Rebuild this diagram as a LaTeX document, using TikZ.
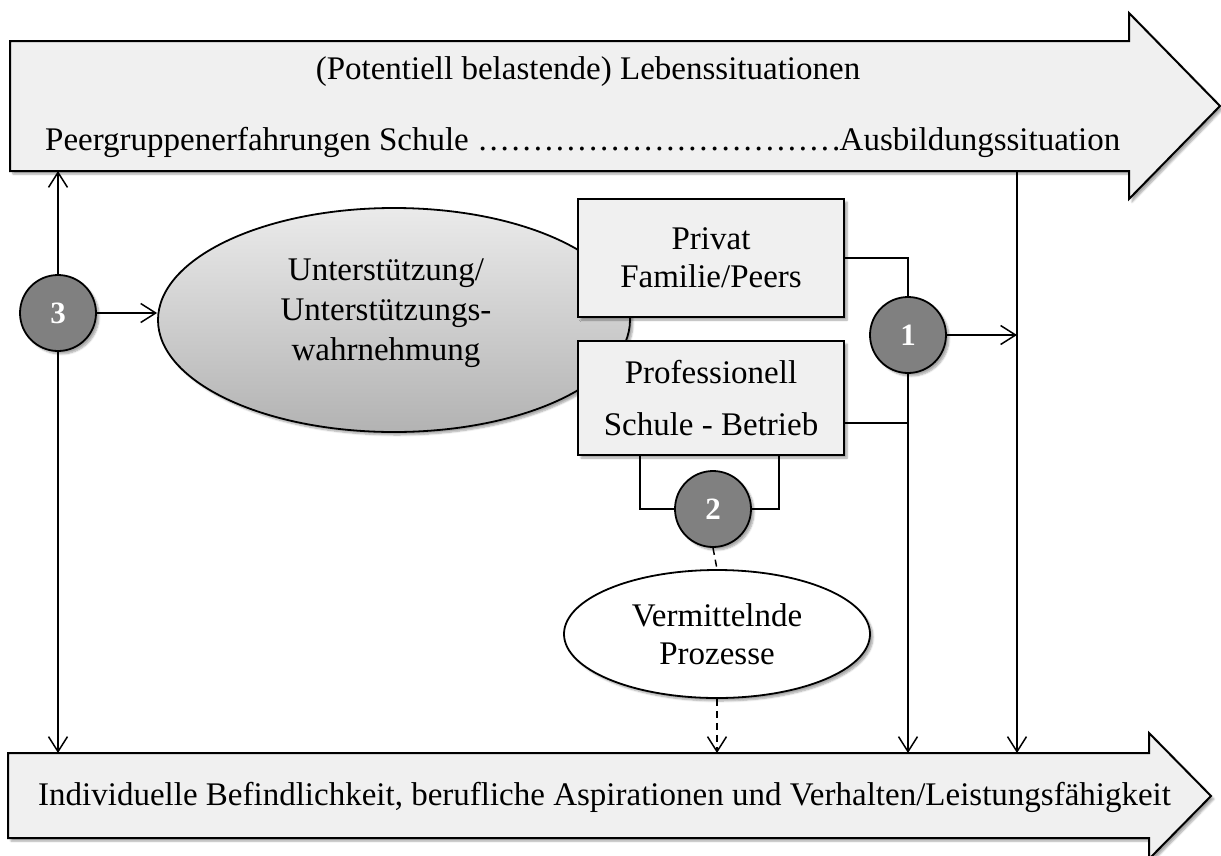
\documentclass[tikz,border=0pt]{standalone}
\usepackage{fontspec}
\setmainfont{Liberation Serif}
\usetikzlibrary{arrows.meta,shapes.geometric,shadows.blur}

\definecolor{panelgray}{RGB}{240,240,240}
\definecolor{dotgray}{RGB}{128,128,128}

\begin{document}
\begin{tikzpicture}[x=1pt,y=-1pt,
  txt/.style={font=\fontsize{33}{38}\selectfont},
  soft/.style={blur shadow={shadow xshift=3pt,shadow yshift=-3pt,shadow blur steps=6,shadow opacity=35}},
  panel/.style={draw=black,line width=2pt,fill=panelgray,soft},
  box/.style={panel,rectangle,minimum width=266pt,align=center,inner sep=0pt,txt},
  num/.style={circle,draw=black,line width=1.8pt,fill=dotgray,minimum size=76pt,inner sep=0pt,
    text=white,font=\fontsize{31}{31}\selectfont\bfseries,soft},
  link/.style={line width=1.5pt},
  arr/.style={link,-{Straight Barb[length=15pt,width=19pt,line width=1.5pt]}},
  dashlink/.style={link,dash pattern=on 7pt off 5pt}]
\useasboundingbox (0,0) rectangle (1221,855);

% broad arrows: life situations (top) and outcomes (bottom)
\path[panel] (10,41) -- (1129,41) -- (1129,13) -- (1220,106) -- (1129,199)
  -- (1129,171) -- (10,171) -- cycle;
\path[panel] (8,753) -- (1149,753) -- (1149,733) -- (1211,796) -- (1149,859)
  -- (1149,838) -- (8,838) -- cycle;

\node[txt] (lifetitle) at (588,72) {(Potentiell belastende) Lebenssituationen};
\node[txt,anchor=west,inner sep=0pt] (lifeline) at (45,142)
  {\hbox to 1075pt{Peergruppenerfahrungen Schule \xleaders\hbox to 0.3333em{\hss.\hss}\hfill\kern-2pt Ausbildungssituation}};
\node[txt,anchor=west,inner sep=0pt] (outcome) at (38,797)
  {Individuelle Befindlichkeit, berufliche Aspirationen und Verhalten/Leistungsfähigkeit};

\coordinate (topbar) at (0,171);
\coordinate (lowbar) at (0,753);
\coordinate (ausb) at (1017,171);

% support perception
\node[ellipse,draw=black,line width=1.8pt,minimum width=472pt,minimum height=224pt,
  top color=black!8,bottom color=black!30,soft] (sup) at (394,320) {};
\node[txt,align=center] (suptext) at (386,313)
  {Unterstützung/\\[2pt]Unterstützungs-\\[2pt]wahrnehmung};

% sources of support
\node[box,minimum height=118pt] (priv) at (711,258) {Privat\\Familie/Peers};
\node[box,minimum height=114pt] (prof) at (711,398) {Professionell\\[14pt]Schule - Betrieb};

% mediating processes
\node[ellipse,draw=black,line width=1.8pt,fill=white,minimum width=306pt,minimum height=128pt,
  align=center,txt,inner sep=0pt,soft] (proc) at (717,634) {Vermittelnde\\Prozesse};

% numbered paths
\node[num] (c1) at (908,335) {1};
\node[num] (c2) at (713,509) {2};
\node[num] (c3) at (58,313) {3};

% path 1
\draw[link] (priv.east) -| (c1.north);
\draw[link] ([yshift=-25pt]prof.east) -| (c1.south);
\draw[arr] (c1.south) -- (c1.south |- lowbar);
\draw[arr] (c1.east) -- (c1.east -| ausb);
\draw[arr] (ausb) -- (ausb |- lowbar);

% path 2
\draw[link] ([xshift=-71pt]prof.south) |- (c2.west);
\draw[link] ([xshift=68pt]prof.south) |- (c2.east);
\draw[dashlink] (c2.south) -- (proc.north);
\draw[dashlink,arr] (proc.south) -- (proc.south |- lowbar);

% path 3
\draw[arr] (c3.north) -- (c3.north |- topbar);
\draw[arr] (c3.south) -- (c3.south |- lowbar);
\draw[arr] (c3.east) -- (c3.east -| sup.west);
\end{tikzpicture}
\end{document}
